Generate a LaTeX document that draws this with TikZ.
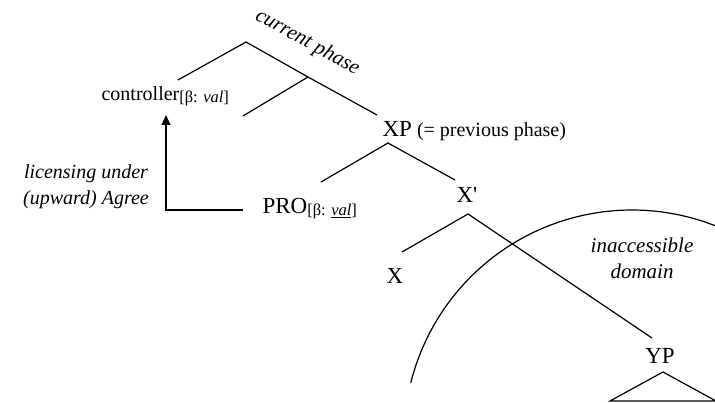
\documentclass[tikz,border=0pt]{standalone}
\usepackage{fontspec}
\setmainfont{Liberation Serif}
\usetikzlibrary{arrows.meta}
\newcommand{\myfs}[1]{\fontsize{#1}{#1}\selectfont}
\newcommand{\featsub}[1]{\raisebox{-2pt}{\myfs{16.5}[β: #1]}}
\begin{document}
\begin{tikzpicture}[x=1pt,y=-1pt,line width=1.2pt,
  cat/.style={inner sep=0pt,anchor=base,font=\myfs{23}},
  lbl/.style={inner sep=0pt,anchor=base west},
  note/.style={inner sep=0pt,anchor=base,align=center,font=\fontsize{20}{26}\selectfont\itshape},
  branch/.style={line width=1.2pt},
  arr/.style={line width=1.2pt,-{Triangle[length=10pt,width=9pt]}}]
\useasboundingbox (0,0) rectangle (715,403);
% labels
\node[lbl,font=\myfs{20}] (ctrl) at (101,101) {controller\featsub{\textit{val}}};
\node[lbl] (xp) at (382,137) {\myfs{23}XP\myfs{20} (= previous phase)};
\node[lbl,font=\myfs{23}] (pro) at (262,214) {PRO\featsub{\underline{\textit{val}}}};
\node[cat] (xbar) at (467,203) {X\textquotesingle};
\node[cat] (x) at (395,284) {X};
\node[cat] (yp) at (660,363) {YP};
\node[inner sep=0pt,anchor=base,font=\myfs{21}\itshape,rotate=-28.5] (cur) at (305,47) {current phase};
\node[note] (lic) at (86,205) {licensing under\\(upward) Agree};
\node[note,font=\fontsize{21}{26}\selectfont\itshape] (inacc) at (642,279) {inaccessible\\domain};
% tree coordinates
\coordinate (top) at (246,42);
\coordinate (topL) at (178,80);
\coordinate (mid) at (308,77);
\coordinate (midL) at (243,116);
\coordinate (xpT) at (377,115);
\coordinate (xpA) at (388,143);
\coordinate (xpL) at (321,182);
\coordinate (xpR) at (455,180);
\coordinate (xbA) at (468,214);
\coordinate (xbL) at (402,252);
\coordinate (xbR) at (652,338);
\coordinate (ypA) at (663,372);
\coordinate (ypBL) at (610,401);
\coordinate (ypBR) at (716,401);
\coordinate (arrS) at (243,210);
\coordinate (arrC) at (166,210);
\coordinate (arrE) at (166,115);
% branches
\draw[branch] (topL) -- (top) -- (mid) -- (xpT);
\draw[branch] (mid) -- (midL);
\draw[branch] (xpL) -- (xpA) -- (xpR);
\draw[branch] (xbL) -- (xbA) -- (xbR);
\draw[branch] (ypBL) -- (ypA) -- (ypBR) -- cycle;
% arrow
\draw[arr] (arrS) -- (arrC) -- (arrE);
% domain arc
\draw[line width=1.2pt] plot[smooth,domain=68.7:166,samples=60] ({632+228*cos(\x)},{438-228*sin(\x)});
\end{tikzpicture}
\end{document}
